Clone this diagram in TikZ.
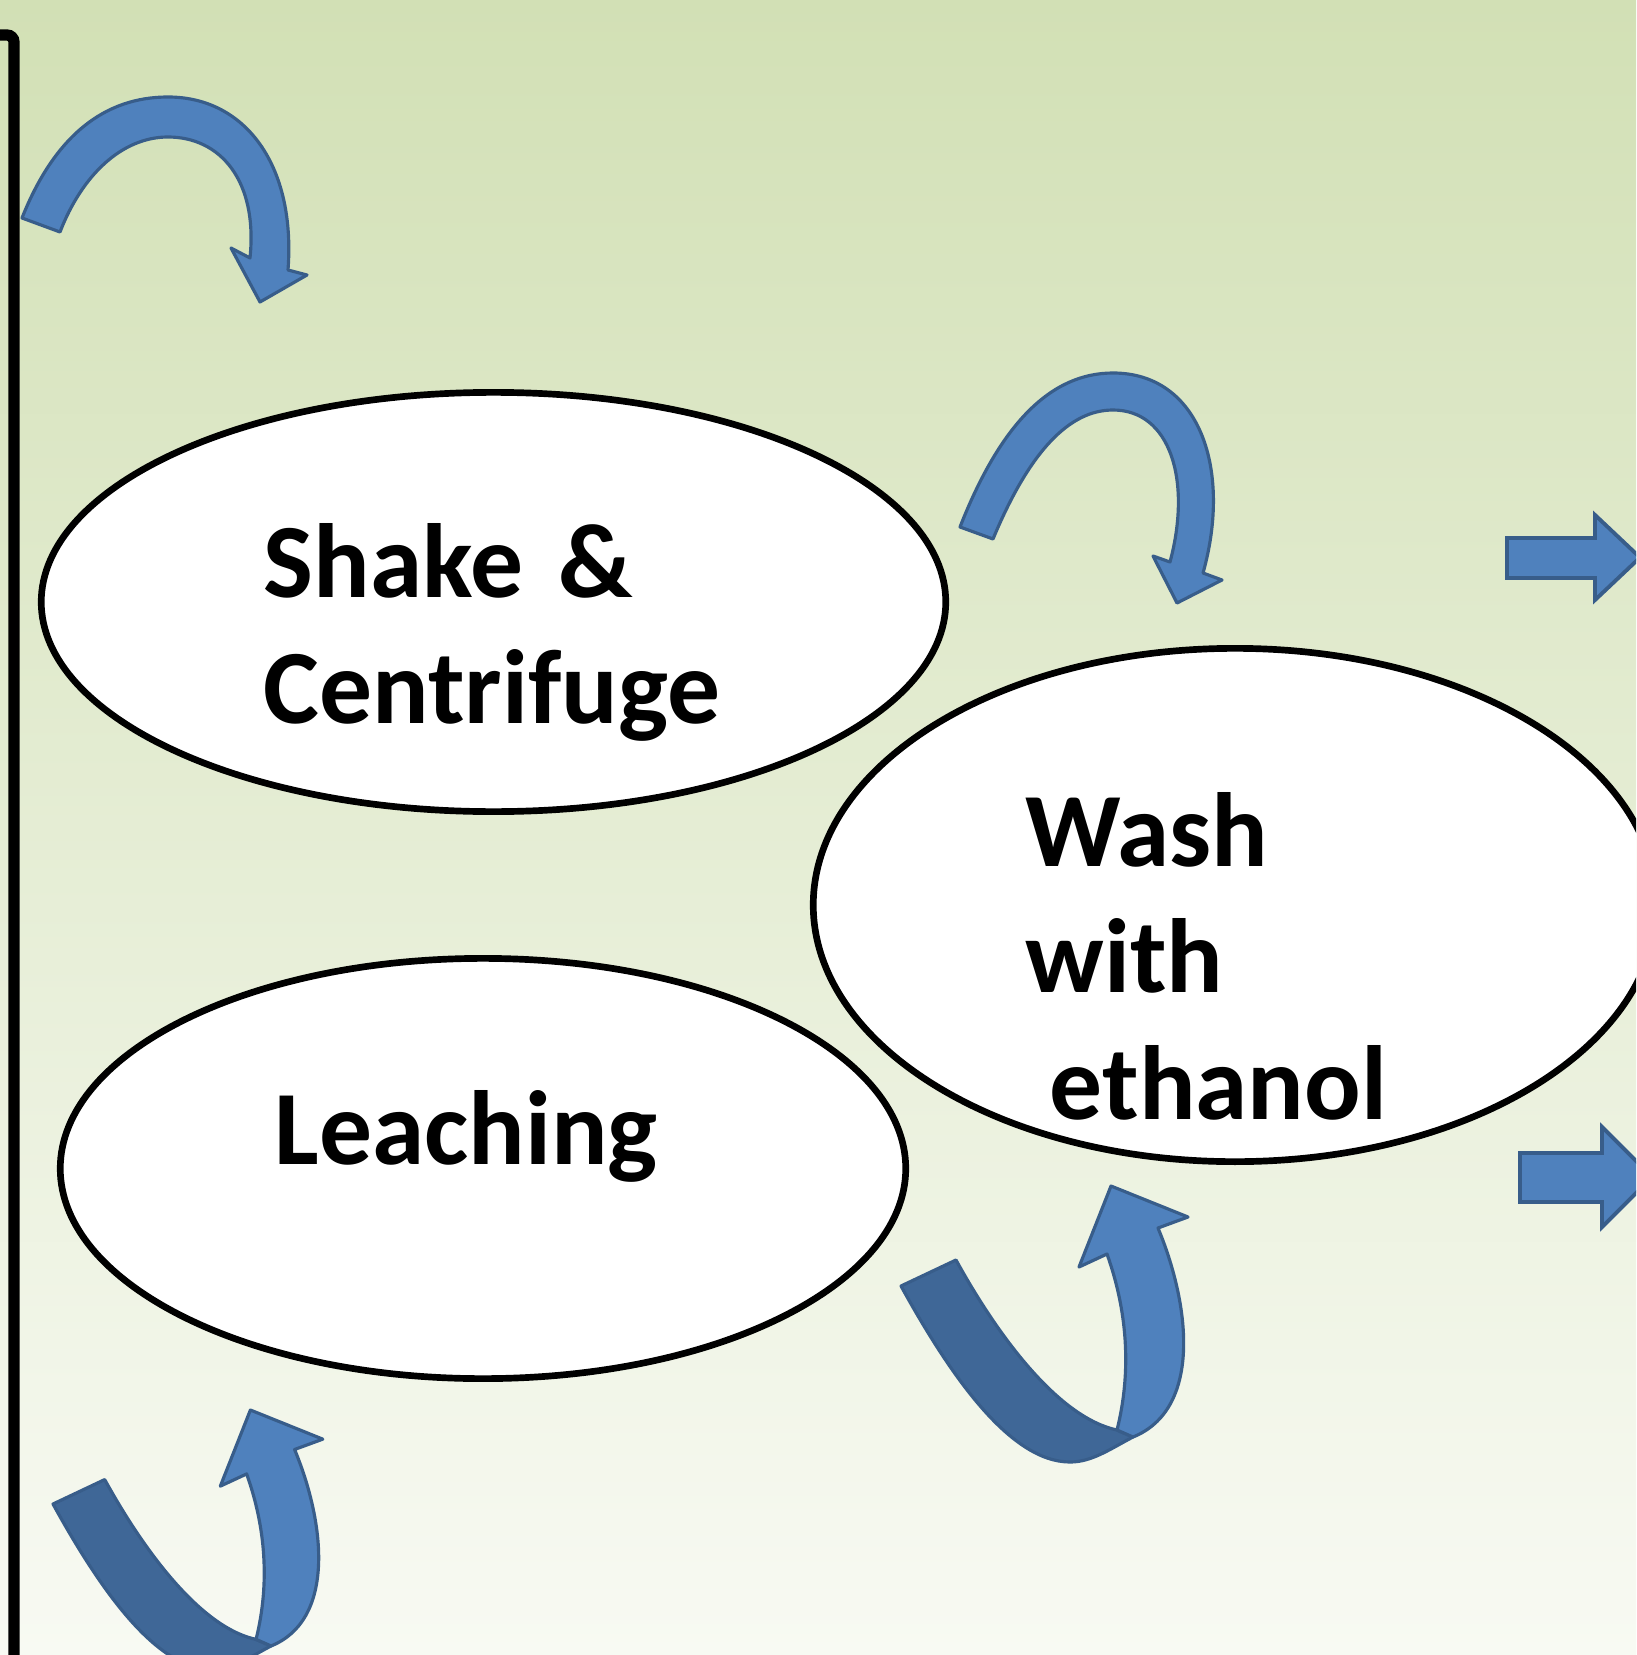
\documentclass[tikz,border=0pt]{standalone}
\usepackage{fontspec}
\newfontfamily\stagefont{Carlito}
\usetikzlibrary{shapes.geometric}
\definecolor{bgtop}{RGB}{210,224,181}
\definecolor{bgbottom}{RGB}{248,250,243}
\definecolor{arrowblue}{RGB}{79,129,189}
\definecolor{arrowdark}{RGB}{63,103,151}
\definecolor{arrowedge}{RGB}{56,93,138}
\tikzset{
stage/.style={draw,ellipse,fill=white,line width=1.9pt,inner sep=0pt},
stage text/.style={anchor=base west,inner sep=0pt,text width=6cm,align=left,
  font={\stagefont\bfseries\fontsize{30}{36}\selectfont}},
bent arrow/.style={fill=arrowblue,draw=arrowedge,line width=0.9pt,line join=round},
ribbon/.style={bent arrow,fill=arrowdark},
block arrow/.style={bent arrow,line width=1.1pt,line join=miter},
% U-turn ribbon, origin at the outer corner of its tail
pics/uturn/.style={code={
  \draw[ribbon] (0,0) .. controls (49,89) and (109,176) .. (169,176)
    .. controls (191,176) and (209,163) .. (232,151) -- (216,144)
    .. controls (159,132) and (99,54) .. (55,-26) -- cycle;
  \draw[bent arrow] (216,144) .. controls (231,84) and (226,24) .. (206,-32)
    -- (178,-19) -- (210,-100) -- (287,-69) -- (257,-58)
    .. controls (291,24) and (299,124) .. (232,151) -- cycle;
}}
}

\begin{document}
\begin{tikzpicture}[x=0.01cm,y=-0.01cm]
\path[use as bounding box,clip] (0,0) rectangle (1636,1655);
\fill[top color=bgtop,bottom color=bgbottom] (0,0) rectangle (1636,1655);
\draw[line width=3.2pt,rounded corners=2pt] (0,35) -- (14,35) -- (14,1700);

\node[stage,minimum width=9.04cm,minimum height=4.19cm] (shake) at (493.5,602) {};
\node[stage,minimum width=8.43cm,minimum height=5.13cm] (wash) at (1235,905) {};
\node[stage,minimum width=8.45cm,minimum height=4.20cm] (leach) at (483,1168.5) {};
\node[stage text] (shaketxt) at (263,597) {Shake \&\\Centrifuge};
\node[stage text] (washtxt) at (1025,866) {Wash\\with\\\hspace*{0.23em}ethanol};
\node[stage text] (leachtxt) at (274,1164) {Leaching};

% turning arrows
\draw[bent arrow] (22,218) .. controls (55,135) and (105,97) .. (168,97)
  .. controls (245,97) and (296,165) .. (288,270)
  -- (307,275) -- (260,302) -- (231,248) -- (250,258)
  .. controls (258,180) and (220,137) .. (168,137)
  .. controls (122,137) and (82,175) .. (60,232) -- cycle;
\draw[bent arrow] (960,527) .. controls (1000,425) and (1050,373) .. (1113,373)
  .. controls (1200,373) and (1232,470) .. (1203,573)
  -- (1222,580) -- (1177,603) -- (1153,556) -- (1170,562)
  .. controls (1192,480) and (1170,410) .. (1113,410)
  .. controls (1070,410) and (1030,450) .. (993,539) -- cycle;
\pic at (901,1286) {uturn};
\pic[scale=0.94] at (53,1504) {uturn};

% arrows to the right
\draw[block arrow] (1507,538) -- (1595,538) -- (1595,515) -- (1640,557.5)
  -- (1595,600) -- (1595,578) -- (1507,578) -- cycle;
\draw[block arrow] (1520,1153) -- (1602,1153) -- (1602,1127) -- (1652,1177)
  -- (1602,1227) -- (1602,1202) -- (1520,1202) -- cycle;
\end{tikzpicture}
\end{document}
